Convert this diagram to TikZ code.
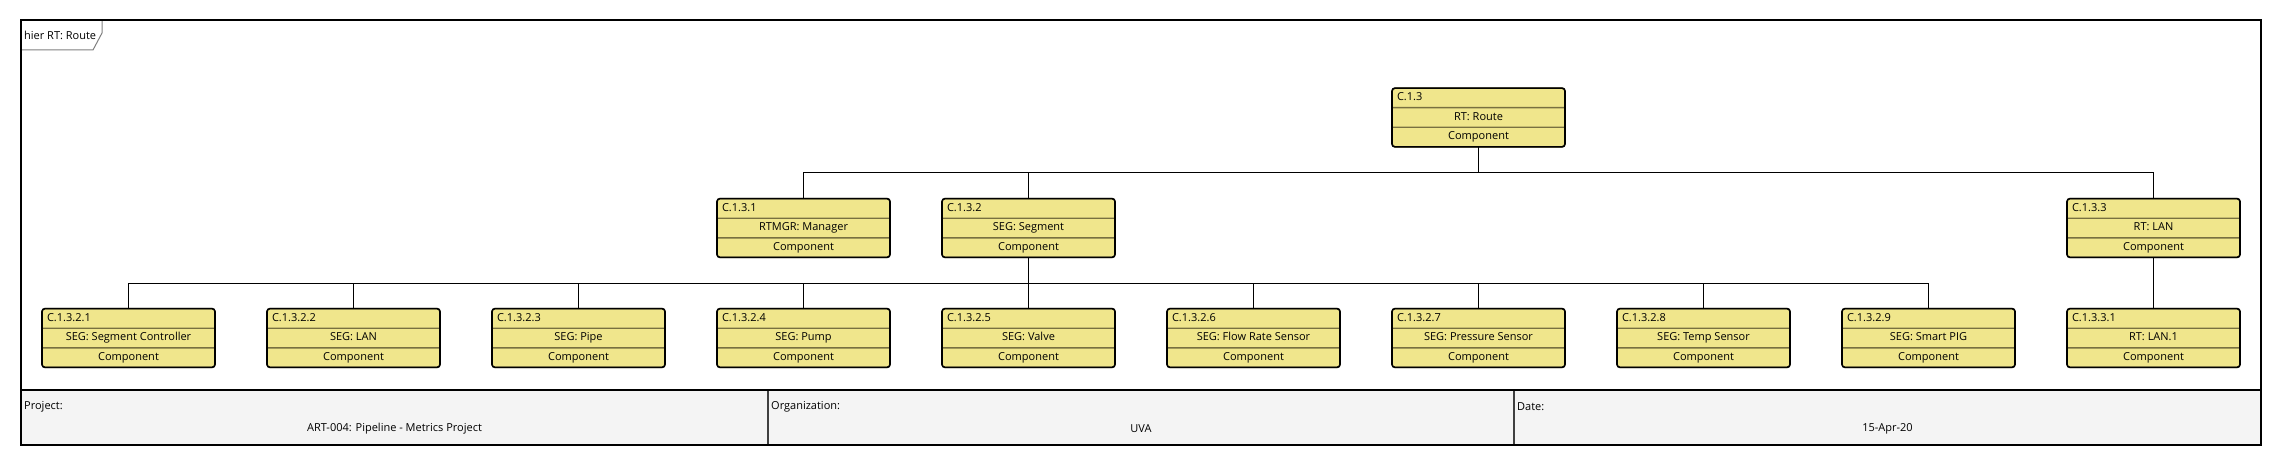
\documentclass[tikz,border=0pt]{standalone}
\usepackage{fontspec}
\setmainfont{Open Sans}
\usepackage{tikz}
\usetikzlibrary{shapes.multipart}
\definecolor{BoxKhaki}{HTML}{F0E68C}
\definecolor{SplitOlive}{HTML}{787040}
\definecolor{FooterGray}{HTML}{F4F4F4}
\definecolor{TabGray}{HTML}{7F7F7F}
\definecolor{RuleGray}{HTML}{404040}
\newcommand{\comptext}[2]{\strut#1\nodepart{two}\strut#2\nodepart{three}\strut Component}

\begin{document}
\begin{tikzpicture}[
    x=1pt, y=-1pt,
    every node/.style={font=\fontsize{11}{13.2}\selectfont},
    comp/.style={rectangle split, rectangle split parts=3, rectangle split part align={left,center,center}, draw=SplitOlive, line width=1.4pt, fill=BoxKhaki, rounded corners=3pt, minimum width=173pt, inner xsep=5pt, inner ysep=2.5pt, outer sep=0pt},
    compframe/.style={draw=black, line width=1.6pt, rounded corners=3pt},
    tree/.style={draw=black, line width=0.9pt, to path={(\tikztostart.south) -- ++(0,26) -| (\tikztotarget.north)}},
    frame/.style={draw=black, line width=2pt},
    footlabel/.style={anchor=west, inner sep=0pt},
    footvalue/.style={inner sep=0pt}
  ]
    \useasboundingbox (0,0) rectangle (2282,465);

    % Diagram frame and tab
    \draw[frame] (21,20) rectangle (2261,445);
    \draw[TabGray, line width=1pt] (21,50) -- (93,50) -- (102,33) -- (102,20);
    \node[footlabel] (tab) at (24,35) {hier RT: Route};

    % Level 1
    \node[comp] (rt) at (1478.5,117.5) {\comptext{C.1.3}{RT: Route}};

    % Level 2
    \node[comp] (mgr) at (803.5,228) {\comptext{C.1.3.1}{RTMGR: Manager}};
    \node[comp] (seg) at (1028.5,228) {\comptext{C.1.3.2}{SEG: Segment}};
    \node[comp] (lan) at (2153.5,228) {\comptext{C.1.3.3}{RT: LAN}};

    % Level 3
    \node[comp] (segctl) at (128.5,338) {\comptext{C.1.3.2.1}{SEG: Segment Controller}};
    \node[comp] (seglan) at (353.5,338) {\comptext{C.1.3.2.2}{SEG: LAN}};
    \node[comp] (pipe) at (578.5,338) {\comptext{C.1.3.2.3}{SEG: Pipe}};
    \node[comp] (pump) at (803.5,338) {\comptext{C.1.3.2.4}{SEG: Pump}};
    \node[comp] (valve) at (1028.5,338) {\comptext{C.1.3.2.5}{SEG: Valve}};
    \node[comp] (flow) at (1253.5,338) {\comptext{C.1.3.2.6}{SEG: Flow Rate Sensor}};
    \node[comp] (press) at (1478.5,338) {\comptext{C.1.3.2.7}{SEG: Pressure Sensor}};
    \node[comp] (temp) at (1703.5,338) {\comptext{C.1.3.2.8}{SEG: Temp Sensor}};
    \node[comp] (pig) at (1928.5,338) {\comptext{C.1.3.2.9}{SEG: Smart PIG}};
    \node[comp] (lan1) at (2153.5,338) {\comptext{C.1.3.3.1}{RT: LAN.1}};

    % Black outlines over the boxes
    \foreach \n in {rt,mgr,seg,lan,segctl,seglan,pipe,pump,valve,flow,press,temp,pig,lan1}
      \draw[compframe] (\n.north west) rectangle (\n.south east);

    % Tree connectors
    \draw[tree] (rt) to (mgr);
    \draw[tree] (rt) to (seg);
    \draw[tree] (rt) to (lan);
    \draw[tree] (seg) to (segctl);
    \draw[tree] (seg) to (seglan);
    \draw[tree] (seg) to (pipe);
    \draw[tree] (seg) to (pump);
    \draw[tree] (seg) to (valve);
    \draw[tree] (seg) to (flow);
    \draw[tree] (seg) to (press);
    \draw[tree] (seg) to (temp);
    \draw[tree] (seg) to (pig);
    \draw[tree] (lan) to (lan1);

    % Footer
    \fill[FooterGray] (21,390) rectangle (2261,445);
    \draw[RuleGray, line width=1.5pt] (768,390) -- (768,445);
    \draw[RuleGray, line width=1.5pt] (1514,390) -- (1514,445);
    \draw[frame] (21,390) -- (2261,390);
    \draw[frame] (21,20) rectangle (2261,445);
    \node[footlabel] (projlbl) at (24,407) {Project:};
    \node[footvalue] (proj) at (394.5,429) {ART-004: Pipeline - Metrics Project};
    \node[footlabel] (orglbl) at (771,407) {Organization:};
    \node[footvalue] (org) at (1141,429) {UVA};
    \node[footlabel] (datelbl) at (1517,407) {Date:};
    \node[footvalue] (date) at (1887.5,429) {15-Apr-20};

  \end{tikzpicture}
\end{document}
